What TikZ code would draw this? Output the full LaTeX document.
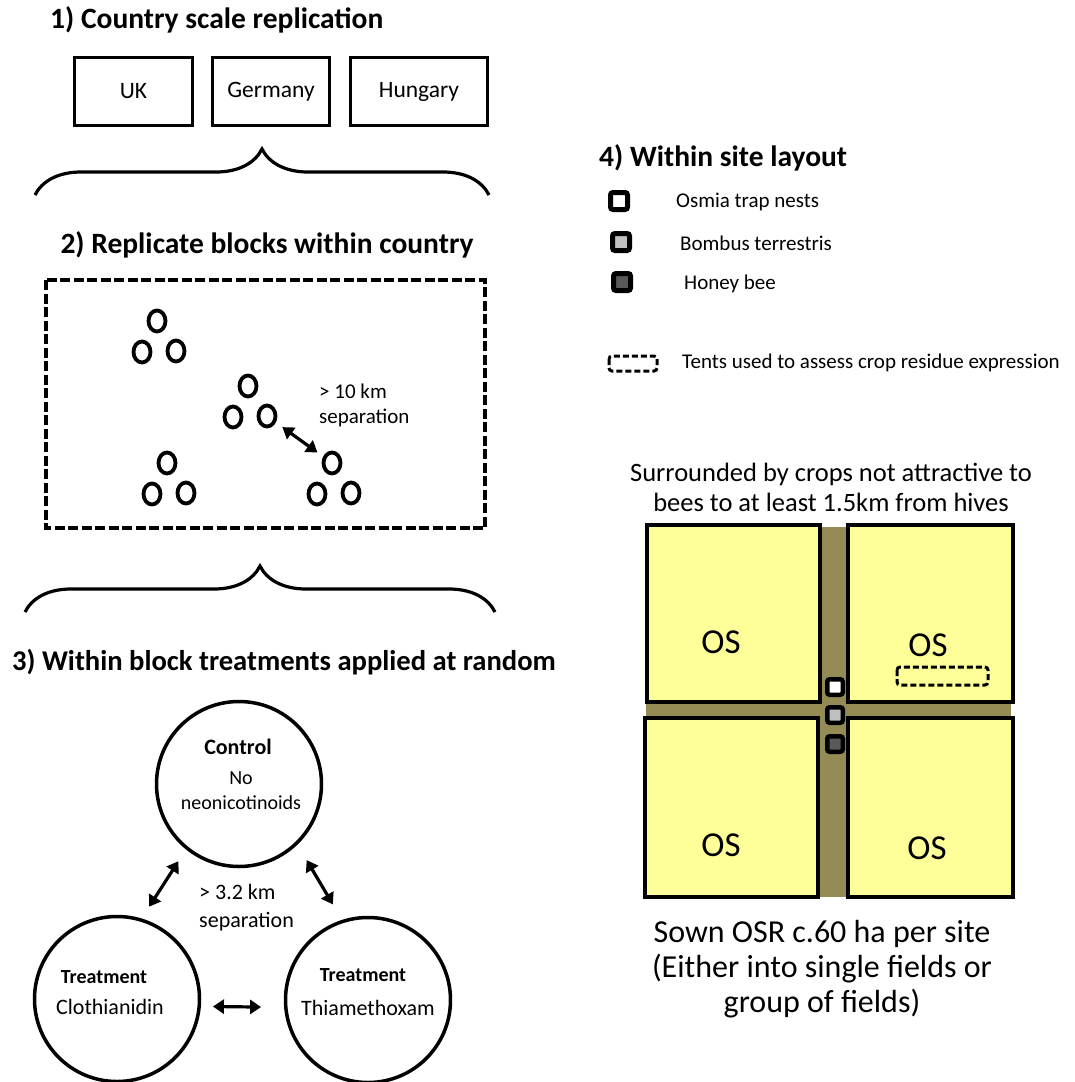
\documentclass[tikz,border=0pt]{standalone}
\usepackage{fontspec}
\setmainfont{Carlito}
\usetikzlibrary{decorations.pathreplacing,shapes.geometric,arrows.meta}

\definecolor{fieldyellow}{HTML}{FFFF99}
\definecolor{trackbrown}{HTML}{948A54}
\definecolor{hivegrey}{HTML}{C0C0C0}
\definecolor{hivedark}{HTML}{595959}

\tikzset{
  heading/.style={anchor=west, inner sep=0pt, font=\fontsize{29.5}{33}\selectfont\bfseries},
  plain/.style={inner sep=0pt, font=\fontsize{21}{25}\selectfont},
  country/.style={draw, line width=3pt, minimum height=68pt, inner sep=0pt, font=\fontsize{23.5}{27}\selectfont},
  ring/.style={draw, ellipse, line width=3.8pt, minimum width=17pt, minimum height=21pt, inner sep=0pt},
  treat/.style={draw, circle, line width=3.5pt, minimum size=165pt, inner sep=0pt},
  hive/.style={draw, rounded corners=2.5pt, line width=4.5pt, minimum size=15.5pt, inner sep=0pt},
  field/.style={draw, fill=fieldyellow, line width=3.5pt},
  tent/.style={draw, rounded corners=3pt, line width=3pt, dash pattern=on 6pt off 3pt},
  blockframe/.style={line width=3.5pt, dash pattern=on 10pt off 3.5pt},
  twoway/.style={{Triangle[length=11pt,width=14pt]}-{Triangle[length=11pt,width=14pt]}, line width=3.2pt},
  bigbrace/.style={decorate, decoration={brace, amplitude=46pt}, line width=3.2pt}
}

\begin{document}
\begin{tikzpicture}[x=1pt, y=-1pt]
\useasboundingbox (0,0) rectangle (1075,1082);

% 1) countries
\node[heading] (head1) at (50,20) {1) Country scale replication};
\node[country, minimum width=118pt] (uk) at (133.5,91.5) {UK};
\node[country, minimum width=117pt] (de) at (271,91.5) {Germany};
\node[country, minimum width=137pt] (hu) at (419,91.5) {Hungary};
\draw[bigbrace] (35,195) -- (489,195);

% 2) blocks
\node[heading, anchor=center] (head2) at (267,245) {2) Replicate blocks within country};
\draw[blockframe] (46,280) rectangle (485,528);
\foreach \g/\x/\y in {a/157/321, b/248/386, c/167/463, d/332/463} {
  \node[ring] (\g1) at (\x,\y) {};
  \node[ring] (\g2) at (\x-15,\y+31) {};
  \node[ring] (\g3) at (\x+19,\y+30) {};
}
\draw[twoway, shorten <=8pt, shorten >=7pt] (b3) -- (d1);
\node[plain, anchor=west, align=left] (sep10) at (319,405) {> 10 km\\separation};
\draw[bigbrace] (25,612) -- (495,612);

% 3) treatments
\node[heading, font=\fontsize{28.6}{32}\selectfont\bfseries] (head3) at (12,662) {3) Within block treatments applied at random};
\node[treat] (ctrl) at (239,784) {};
\node[treat] (clo) at (117,999) {};
\node[treat] (thia) at (368,1000) {};
\node[plain, font=\fontsize{22}{26}\selectfont\bfseries] at (238,747) {Control};
\node[plain, font=\fontsize{20}{24}\selectfont] at (241,778) {No};
\node[plain, font=\fontsize{20}{24}\selectfont] at (241,803) {neonicotinoids};
\node[plain, font=\fontsize{20}{24}\selectfont\bfseries] at (104,977) {Treatment};
\node[plain, font=\fontsize{22}{26}\selectfont] at (110,1007) {Clothianidin};
\node[plain, font=\fontsize{20}{24}\selectfont\bfseries] at (363,975) {Treatment};
\node[plain, font=\fontsize{22}{26}\selectfont] at (368,1008) {Thiamethoxam};
\draw[twoway, shorten <=14pt, shorten >=14pt] (ctrl.231) -- (clo.73);
\draw[twoway, shorten <=18pt, shorten >=18pt] (ctrl.314) -- (thia.108);
\draw[twoway, shorten <=12pt, shorten >=23pt] (clo.-5) -- (thia.185);
\node[plain, anchor=west, align=left, font=\fontsize{22}{28}\selectfont] (sep32) at (199,908) {> 3.2 km\\separation};

% 4) site layout
\node[heading] (head4) at (599,158) {4) Within site layout};
\node[hive, minimum size=17pt, line width=5pt, fill=white] (kosmia) at (619,201) {};
\node[hive, minimum size=17pt, line width=5pt, fill=hivegrey] (kbombus) at (621,242) {};
\node[hive, minimum size=17pt, line width=5pt, fill=hivedark] (khoney) at (622,282) {};
\node[plain, anchor=west] at (676,202) {Osmia trap nests};
\node[plain, anchor=west] at (680,243) {Bombus terrestris};
\node[plain, anchor=west] at (684,284) {Honey bee};
\draw[tent] (609,356) rectangle (657,371);
\node[plain, anchor=west] at (682,363) {Tents used to assess crop residue expression};

\node[plain, align=center, font=\fontsize{26.5}{30}\selectfont] at (831,487) {Surrounded by crops not attractive to\\bees to at least 1.5km from hives};
\fill[trackbrown] (646,527) rectangle (1011,897);
\draw[field] (647,525) rectangle (820,702);
\draw[field] (848,525) rectangle (1013,702);
\draw[field] (645,718) rectangle (818,897);
\draw[field] (848,718) rectangle (1013,897);
\node[plain, font=\fontsize{35}{38}\selectfont] at (721,642) {OS};
\node[plain, font=\fontsize{35}{38}\selectfont] at (928,645) {OS};
\node[plain, font=\fontsize{35}{38}\selectfont] at (721,845) {OS};
\node[plain, font=\fontsize{35}{38}\selectfont] at (927,848) {OS};
\draw[tent] (897,667) rectangle (988,685);
\node[hive, fill=white] (osmia) at (835,687) {};
\node[hive, fill=hivegrey] (bombus) at (835,715) {};
\node[hive, fill=hivedark] (honey) at (835,744) {};
\node[plain, align=center, font=\fontsize{32}{35}\selectfont] at (822,969) {Sown OSR c.60 ha per site\\(Either into single fields or\\group of fields)};
\end{tikzpicture}
\end{document}
